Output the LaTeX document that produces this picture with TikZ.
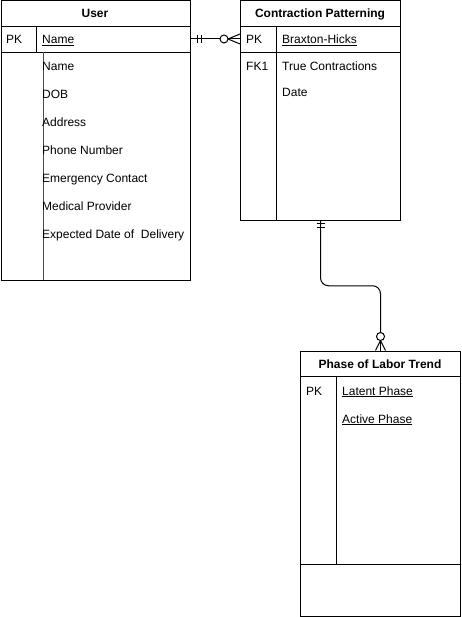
\documentclass[tikz,border=0pt]{standalone}
\usepackage{fontspec}
\setmainfont{Liberation Sans}
\usetikzlibrary{positioning, calc}
\tikzstyle{table} = [rectangle, draw=black, line width=1pt, inner sep=0pt, anchor=north west]
\tikzstyle{title} = [font=\fontsize{12}{14}\selectfont\bfseries, inner sep=0pt, anchor=base, yshift=-5pt]
\tikzstyle{field} = [font=\fontsize{12}{14}\selectfont, anchor=base west, inner sep=0pt, yshift=-5pt]
\tikzstyle{rule} = [line width=1pt]
\tikzstyle{link} = [line width=1pt]

\begin{document}
\begin{tikzpicture}[x=1pt, y=-1pt]
    \useasboundingbox (0,0) rectangle (461,617);

    % Tabelle
    \node (user) [table, minimum width=189.5pt, minimum height=279.5pt] at (0.5,0.5) {};
    \node (cp) [table, minimum width=160pt, minimum height=219.5pt] at (240,0.5) {};
    \node (phase) [table, minimum width=160pt, minimum height=265pt] at (300,350.5) {};

    % Titoli
    \node (userTitle) [title] at (95,13) {User};
    \node (cpTitle) [title] at (320,13) {Contraction Patterning};
    \node (phaseTitle) [title] at (380,363) {Phase of Labor Trend};

    % Linee interne
    \draw [rule] ($(user.north west)+(0,26)$) -- ($(user.north east)+(0,26)$);
    \draw [rule] ($(user.north west)+(0,52)$) -- ($(user.north east)+(0,52)$);
    \draw [rule] (36,26) -- (36,52);
    \draw [rule, black!70] (43,52) -- (43,280);
    \draw [rule] ($(cp.north west)+(0,26)$) -- ($(cp.north east)+(0,26)$);
    \draw [rule] ($(cp.north west)+(0,52)$) -- ($(cp.north east)+(0,52)$);
    \draw [rule] (276,26) -- (276,220);
    \draw [rule] ($(phase.north west)+(0,26)$) -- ($(phase.north east)+(0,26)$);
    \draw [rule] (336,376) -- (336,564);
    \draw [rule] (300,564) -- (460,564);

    % Campi User
    \node (userPK) [field] at (6,39) {PK};
    \node (userKey) [field] at (42,39) {\underline{Name}};
    \node (userName) [field] at (42,66) {Name};
    \node (userDob) [field] at (42,94) {DOB};
    \node (userAddr) [field] at (42,122) {Address};
    \node (userPhone) [field] at (42,150) {Phone Number};
    \node (userEmerg) [field] at (42,178) {Emergency Contact};
    \node (userMed) [field] at (42,206) {Medical Provider};
    \node (userEdd) [field] at (42,234) {Expected Date of\ \ Delivery};

    % Campi Contraction Patterning
    \node (cpPK) [field] at (246,39) {PK};
    \node (cpKey) [field] at (282,39) {\underline{Braxton-Hicks}};
    \node (cpFK) [field] at (246,66) {FK1};
    \node (cpTrue) [field] at (282,66) {True Contractions};
    \node (cpDate) [field] at (282,92) {Date};

    % Campi Phase of Labor Trend
    \node (phasePK) [field] at (306,390) {PK};
    \node (phaseLatent) [field] at (342,390) {\underline{Latent Phase}};
    \node (phaseActive) [field] at (342,418) {\underline{Active Phase}};

    % Relazione User - Contraction Patterning
    \coordinate (relA) at (user.east |- 0,39);
    \coordinate (relB) at (cp.west |- 0,39);
    \draw [link] (relA) -- ($(relB)+(-12,0)$);
    \draw [link] ($(relA)+(6,-4)$) -- ++(0,8);
    \draw [link] ($(relA)+(10,-4)$) -- ++(0,8);
    \draw [link, fill=white] ($(relB)+(-16,0)$) circle (4pt);
    \draw [link] ($(relB)+(-12,0)$) -- ($(relB)+(0,-5)$);
    \draw [link] ($(relB)+(-12,0)$) -- (relB);
    \draw [link] ($(relB)+(-12,0)$) -- ($(relB)+(0,5)$);

    % Relazione Contraction Patterning - Phase of Labor Trend
    \draw [link, rounded corners=8pt] (cp.south) |- ($(cp.south)!0.5!(phase.north)$) -| ($(phase.north)+(0,-10)$);
    \draw [link] ($(cp.south)+(-4,3)$) -- ++(8,0);
    \draw [link] ($(cp.south)+(-4,7)$) -- ++(8,0);
    \draw [link, fill=white] ($(phase.north)+(0,-14)$) circle (4pt);
    \draw [link] ($(phase.north)+(0,-10)$) -- ($(phase.north)+(-5,0)$);
    \draw [link] ($(phase.north)+(0,-10)$) -- (phase.north);
    \draw [link] ($(phase.north)+(0,-10)$) -- ($(phase.north)+(5,0)$);

\end{tikzpicture}
\end{document}
